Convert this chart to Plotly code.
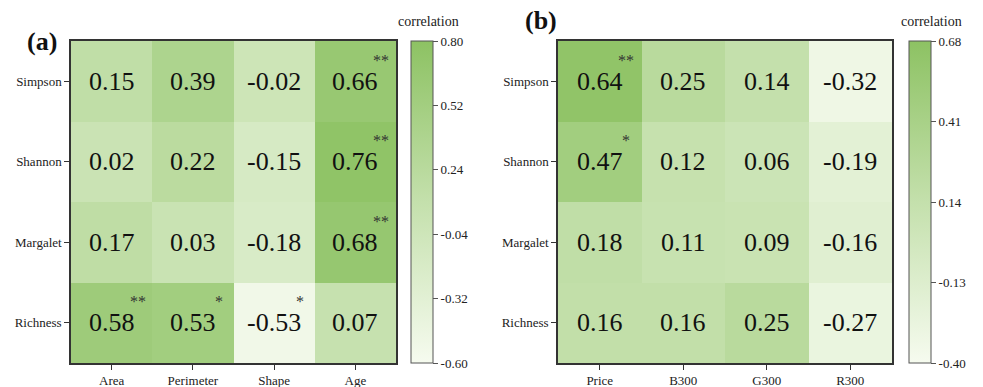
import plotly.graph_objects as go

rows = ["Simpson", "Shannon", "Margalet", "Richness"]
cols_a = ["Area", "Perimeter", "Shape", "Age"]
cols_b = ["Price", "B300", "G300", "R300"]

vals_a = [
    [0.15, 0.39, -0.02, 0.66],
    [0.02, 0.22, -0.15, 0.76],
    [0.17, 0.03, -0.18, 0.68],
    [0.58, 0.53, -0.53, 0.07],
]
sig_a = [
    ["", "", "", "**"],
    ["", "", "", "**"],
    ["", "", "", "**"],
    ["**", "*", "*", ""],
]
vals_b = [
    [0.64, 0.25, 0.14, -0.32],
    [0.47, 0.12, 0.06, -0.19],
    [0.18, 0.11, 0.09, -0.16],
    [0.16, 0.16, 0.25, -0.27],
]
sig_b = [
    ["**", "", "", ""],
    ["*", "", "", ""],
    ["", "", "", ""],
    ["", "", "", ""],
]
range_a = [-0.60, 0.80]
range_b = [-0.40, 0.68]
ticks_a = [-0.60, -0.32, -0.04, 0.24, 0.52, 0.80]
ticks_b = [-0.40, -0.13, 0.14, 0.41, 0.68]

W, H = 983, 387
FONT = "Liberation Serif"
cscale = [[0, "#F6FBEF"], [0.5, "#C4E0AC"], [1, "#8DC263"]]

def px(x): return x / W
def py(y): return 1 - y / H

top, bot = 41, 363
fig = go.Figure()

def add_panel(vals, sig, cols, rng, ticks, xa, ya, cbx):
    fig.add_trace(go.Heatmap(
        z=vals, x=cols, y=rows, xaxis=xa, yaxis=ya,
        zmin=rng[0], zmax=rng[1], colorscale=cscale,
        hoverinfo="skip",
        colorbar=dict(
            x=px(cbx), xanchor="left", thickness=22, thicknessmode="pixels",
            len=(bot - top) / H, lenmode="fraction", y=py((top + bot) / 2), yanchor="middle",
            outlinewidth=1, outlinecolor="#555", ticks="outside", ticklen=5, tickcolor="#555",
            tickvals=ticks, ticktext=[f"{t:.2f}" for t in ticks],
            tickfont=dict(family=FONT, size=13, color="#222"), xpad=0, ypad=0,
        ),
    ))
    for i, r in enumerate(rows):
        for j, c in enumerate(cols):
            fig.add_annotation(x=j, y=i, xref=xa, yref=ya, text=f"{vals[i][j]:.2f}",
                               showarrow=False, font=dict(family=FONT, size=26, color="#111"))
            if sig[i][j]:
                fig.add_annotation(x=j + 0.32, y=i - 0.26, xref=xa, yref=ya, text=sig[i][j],
                                   showarrow=False, font=dict(family=FONT, size=16, color="#333"))

add_panel(vals_a, sig_a, cols_a, range_a, ticks_a, "x", "y", 411)
add_panel(vals_b, sig_b, cols_b, range_b, ticks_b, "x2", "y2", 909)

axcommon = dict(showline=True, linecolor="#333", linewidth=1.5, mirror=True, ticks="outside",
                ticklen=5, tickcolor="#333", tickfont=dict(family=FONT, size=13, color="#222"),
                showgrid=False, zeroline=False)
fig.update_layout(
    width=W, height=H, margin=dict(l=0, r=0, t=0, b=0),
    plot_bgcolor="white", paper_bgcolor="white",
    xaxis=dict(domain=[px(71), px(396)], anchor="y", **axcommon),
    yaxis=dict(domain=[py(bot), py(top)], anchor="x", autorange="reversed", **axcommon),
    xaxis2=dict(domain=[px(558), px(892)], anchor="y2", **axcommon),
    yaxis2=dict(domain=[py(bot), py(top)], anchor="x2", autorange="reversed", **axcommon),
)
fig.add_annotation(x=px(59), y=py(41), xref="paper", yref="paper", text="<b>(a)</b>",
                   showarrow=False, xanchor="right", yanchor="middle",
                   font=dict(family=FONT, size=26, color="#111"))
fig.add_annotation(x=px(559), y=py(21), xref="paper", yref="paper", text="<b>(b)</b>",
                   showarrow=False, xanchor="right", yanchor="middle",
                   font=dict(family=FONT, size=26, color="#111"))
for cx in (428, 931):
    fig.add_annotation(x=px(cx), y=py(22), xref="paper", yref="paper", text="correlation",
                       showarrow=False, xanchor="center", yanchor="middle",
                       font=dict(family=FONT, size=14, color="#222"))

fig.write_html("out.html", config={"displayModeBar": False},
               post_script="document.body.style.margin='0';document.body.style.overflow='hidden';")
